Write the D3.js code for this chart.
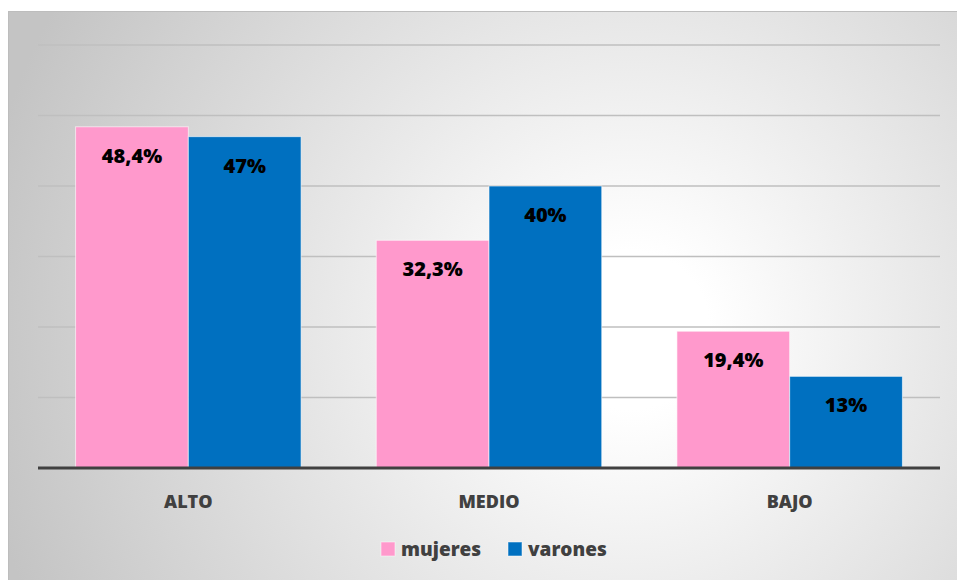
<!DOCTYPE html>
<html>
<head>
<meta charset="utf-8">
<script src="https://cdn.jsdelivr.net/npm/d3@7"></script>
<style>
  body { margin: 0; background: #ffffff; }
  text { font-family: "Open Sans", "Liberation Sans", sans-serif; font-weight: 800; }
</style>
</head>
<body>
<div id="chart"></div>
<script>

const categories = ["ALTO", "MEDIO", "BAJO"];
const series = ["mujeres", "varones"];
const values_mujeres = [48.4, 32.3, 19.4];
const values_varones = [47, 40, 13];
const labels_mujeres = ["48,4%", "32,3%", "19,4%"];
const labels_varones = ["47%", "40%", "13%"];
const y_ticks = [0, 10, 20, 30, 40, 50, 60];

const W = 957, H = 580;
const PLOT_X0 = 38, PLOT_X1 = 940;
const PLOT_Y0 = 45, PLOT_Y1 = 468;

const COLORS = { mujeres: "#FF99CC", varones: "#0070C0" };

// ---------------------------------------------------------------

let svg = d3.select("#chart")
              .append("svg")
                .attr("width", W)
                .attr("height", H);

let defs = svg.append("defs");
let grad = defs.append("radialGradient")
                .attr("id", "bg")
                .attr("gradientUnits", "userSpaceOnUse")
                .attr("cx", 630).attr("cy", 330).attr("r", 660);
grad.append("stop").attr("offset", 0).attr("stop-color", "#ffffff");
grad.append("stop").attr("offset", 0.12).attr("stop-color", "#ffffff");
grad.append("stop").attr("offset", 1).attr("stop-color", "#c4c4c4");

svg.append("rect")
    .attr("x", 8.5).attr("y", 11.5)
    .attr("width", W - 8).attr("height", H - 11)
    .attr("fill", "url(#bg)")
    .attr("stroke", "#bdbdbd")
    .attr("stroke-width", 1);

// ---------------------------------------------------------------

let x = d3.scaleBand()
          .domain(categories)
          .range([PLOT_X0, PLOT_X1])
          .paddingInner(0.25)
          .paddingOuter(0.125);

let xs = d3.scaleBand()
           .domain(series)
           .range([0, x.bandwidth()]);

let y = d3.scaleLinear()
          .domain([0, 60])
          .range([PLOT_Y1, PLOT_Y0]);

// gridlines
svg.append("g")
    .selectAll("line")
    .data(y_ticks.filter(d => d > 0))
    .join("line")
      .attr("x1", PLOT_X0).attr("x2", PLOT_X1)
      .attr("y1", d => y(d)).attr("y2", d => y(d))
      .attr("stroke", "#bfbfbf")
      .attr("stroke-width", 1.5);

// bars
let rows = [];
categories.forEach((c, i) => {
    rows.push({ cat: c, ser: "mujeres", v: values_mujeres[i], label: labels_mujeres[i] });
    rows.push({ cat: c, ser: "varones", v: values_varones[i], label: labels_varones[i] });
});

svg.append("g")
    .selectAll("rect")
    .data(rows)
    .join("rect")
      .attr("x", d => x(d.cat) + xs(d.ser))
      .attr("y", d => y(d.v))
      .attr("width", xs.bandwidth())
      .attr("height", d => y(0) - y(d.v))
      .attr("fill", d => COLORS[d.ser])
      .attr("stroke", "#ffffff")
      .attr("stroke-opacity", 0.6)
      .attr("stroke-width", 1);

svg.append("g")
    .selectAll("text")
    .data(rows)
    .join("text")
      .attr("x", d => x(d.cat) + xs(d.ser) + xs.bandwidth() / 2)
      .attr("y", d => y(d.v) + 36)
      .attr("text-anchor", "middle")
      .attr("font-size", 20)
      .attr("fill", "#000000")
      .text(d => d.label);

// baseline
svg.append("line")
    .attr("x1", PLOT_X0).attr("x2", PLOT_X1)
    .attr("y1", y(0)).attr("y2", y(0))
    .attr("stroke", "#404040")
    .attr("stroke-width", 3);

// category labels
svg.append("g")
    .selectAll("text")
    .data(categories)
    .join("text")
      .attr("x", d => x(d) + x.bandwidth() / 2)
      .attr("y", 508)
      .attr("text-anchor", "middle")
      .attr("font-size", 18)
      .attr("fill", "#404040")
      .text(d => d);

// legend
let legend_x = [381, 508];
let legend = svg.append("g")
                .selectAll("g")
                .data(series)
                .join("g")
                  .attr("transform", (d, i) => "translate(" + legend_x[i] + ",542)");

legend.append("rect")
    .attr("width", 14).attr("height", 14)
    .attr("fill", d => COLORS[d])
    .attr("stroke", "#ffffff")
    .attr("stroke-opacity", 0.5);

legend.append("text")
    .attr("x", 20)
    .attr("y", 14)
    .attr("font-size", 19)
    .attr("fill", "#404040")
    .text(d => d);

</script>
</body>
</html>
